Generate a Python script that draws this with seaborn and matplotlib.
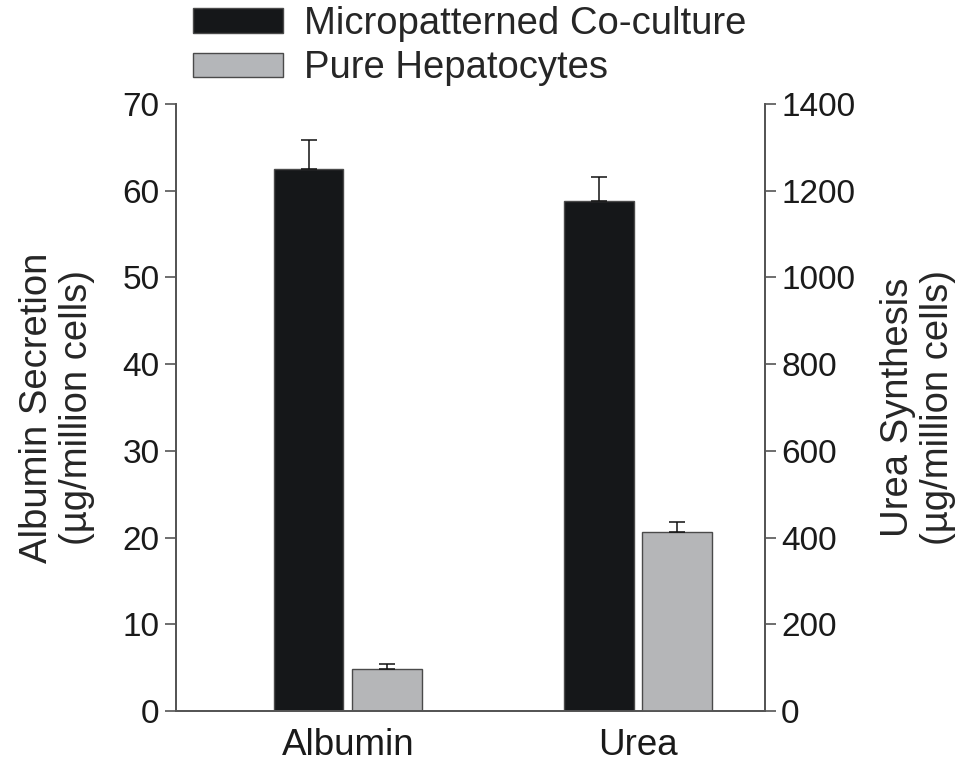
import matplotlib
matplotlib.use('Agg')
import matplotlib.pyplot as plt
import seaborn as sns
import pandas as pd
from matplotlib.patches import Patch

# values
categories = ['Albumin', 'Urea']
groups = ['Micropatterned Co-culture', 'Pure Hepatocytes']
albumin_vals = [62.5, 4.9]      # ug/million cells (left axis)
albumin_err = [3.3, 0.5]
urea_vals = [1176, 412]         # ug/million cells (right axis)
urea_err = [55, 25]

colors = ['#151719', '#b4b6b9']
edge = '#4a4a4a'

sns.set_theme(style='white')
plt.rcParams['font.family'] = ['Liberation Sans', 'DejaVu Sans']

fig = plt.figure(figsize=(9.6, 7.65), dpi=100)
ax = fig.add_axes([0.183, 0.0706, 0.614, 0.7934])
ax2 = ax.twinx()

df_alb = pd.DataFrame({'cat': 'Albumin', 'group': groups, 'val': albumin_vals})
df_urea = pd.DataFrame({'cat': 'Urea', 'group': groups, 'val': urea_vals})


def draw(axis, df, errs):
    sns.barplot(data=df, x='cat', y='val', hue='group', order=categories,
                hue_order=groups, palette=colors, width=0.54, gap=0.11,
                edgecolor=edge, linewidth=1.0, errorbar=None, legend=False, ax=axis)
    bars = [p for p in axis.patches if p.get_height() > 0]
    for bar, e in zip(bars, errs):
        xc = bar.get_x() + bar.get_width() / 2
        axis.errorbar(xc, bar.get_height(), yerr=[[0], [e]], fmt='none',
                      ecolor='#111111', elinewidth=1.1, capsize=6, capthick=1.1, zorder=3)


draw(ax, df_alb, albumin_err)
draw(ax2, df_urea, urea_err)

ax.set_xlim(-0.593, 1.438)
ax.set_ylim(0, 70)
ax2.set_ylim(0, 1400)
ax.set_yticks(range(0, 71, 10))
ax2.set_yticks(range(0, 1401, 200))

ax.set_xlabel('')
ax.set_ylabel('Albumin Secretion\n(\u00b5g/million cells)', fontsize=27.5, labelpad=20,
              linespacing=1.15)
ax2.set_ylabel('Urea Synthesis\n(\u00b5g/million cells)', fontsize=27.5, labelpad=18,
               linespacing=1.15, rotation=90)
ax2.set_xlabel('')

for a in (ax, ax2):
    a.spines['top'].set_visible(False)
    for s in a.spines.values():
        s.set_color('#555555')
        s.set_linewidth(1.3)
    a.tick_params(axis='y', length=8, width=1.2, color='#555555', labelsize=24,
                  labelcolor='#1a1a1a', direction='out')
    a.tick_params(axis='x', length=0, labelsize=26.5, pad=12, labelcolor='#1a1a1a')
ax.tick_params(axis='y', left=True, right=False)
ax2.tick_params(axis='y', right=True, left=False)

handles = [Patch(facecolor=colors[0], edgecolor=edge, label=groups[0]),
           Patch(facecolor=colors[1], edgecolor=edge, label=groups[1])]
fig.legend(handles=handles, loc='upper left', bbox_to_anchor=(0.177, 1.022),
           frameon=False, fontsize=27.5, handlelength=2.35, handleheight=0.6,
           handletextpad=0.55, labelspacing=0.22, borderaxespad=0.2)

fig.savefig('out.png', dpi=100)
